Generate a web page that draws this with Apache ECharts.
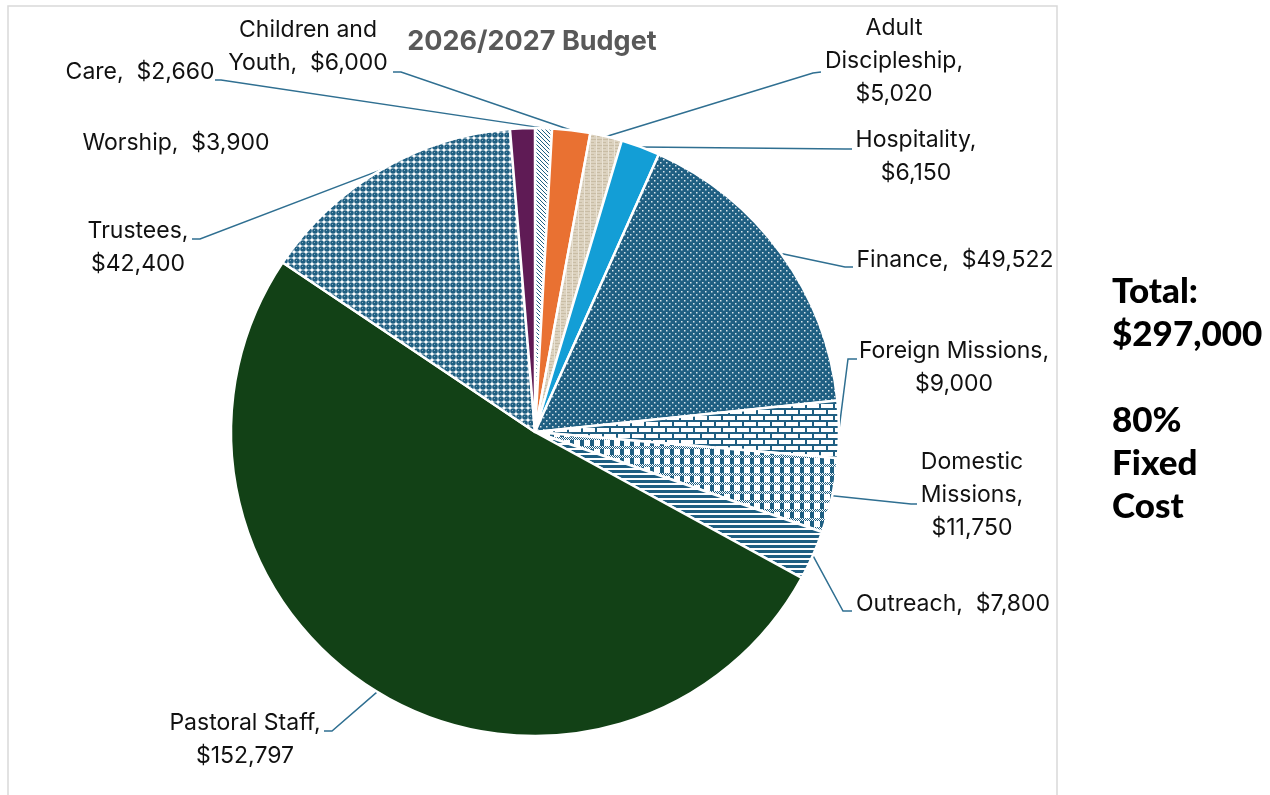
<!DOCTYPE html>
<html><head><meta charset="utf-8">
<script src="https://cdn.jsdelivr.net/npm/echarts@6/dist/echarts.min.js"></script>
<style>html,body{margin:0;padding:0;background:#fff}#c{width:1270px;height:795px}</style>
</head><body><div id="c"></div>
<script>
// ---- data ----
const categories = ['Care','Children and Youth','Adult Discipleship','Hospitality','Finance','Foreign Missions','Domestic Missions','Outreach','Pastoral Staff','Trustees','Worship'];
const values = [2660,6000,5020,6150,49522,9000,11750,7800,152797,42400,3900];
const labelTemplates = ['Care,  {v}','Children and\nYouth,  {v}','Adult\nDiscipleship,\n{v}','Hospitality,\n{v}','Finance,  {v}','Foreign Missions,\n{v}','Domestic\nMissions,\n{v}','Outreach,  {v}','Pastoral Staff,\n{v}','Trustees,\n{v}','Worship,  {v}'];
const titleText = '2026/2027 Budget';
const sideText = ['Total:','$297,000','','80%','Fixed','Cost'];

// ---- layout / style ----
const CX = 535, CY = 432, R = 304;
const labelBox = [[140,72],[308,47],[894,61],[916,157],[955,260],[954,368],[972,495],[953,604],[245,740],[138,248],[176,143]];
const labelLinks = [[[221,80],[215,80]],[[401,72],[393,72]],[[813,73],[821,72]],[[845,149],[852,149]],[[845,267],[853,267]],[[848,359],[857,359]],[[911,504],[917,504]],[[843,611],[852,611]],[[332,731],[324,731]],[[200,239],[192,239]],null];

const B = '#1f5f82';
function mk(w,h,draw){const c=document.createElement('canvas');c.width=w;c.height=h;const g=c.getContext('2d');draw(g,w,h);return {image:c,repeat:'repeat'};}
const pCare = mk(4,4,g=>{g.fillStyle='#fff';g.fillRect(0,0,4,4);g.fillStyle=B;for(let i=0;i<4;i++)g.fillRect(i,i,1,1);});
const pAdult = mk(6,6,g=>{g.fillStyle='#dcd2bf';g.fillRect(0,0,6,6);g.fillStyle='#c9bda5';g.fillRect(0,1,6,1);g.fillRect(3,4,3,1);g.fillStyle='#e9e2d4';g.fillRect(2,0,1,6);});
const pFinance = mk(6,6,g=>{g.fillStyle=B;g.fillRect(0,0,6,6);g.fillStyle='#d8e4ea';g.fillRect(0,0,1.5,1.5);g.fillRect(3,3,1.5,1.5);});
const pForeign = mk(14,12,g=>{g.fillStyle='#fff';g.fillRect(0,0,14,12);g.fillStyle=B;g.fillRect(0,0,14,2);g.fillRect(0,6,14,2);g.fillRect(0,0,2,6);g.fillRect(7,6,2,6);});
const pDomestic = mk(10,9,g=>{g.fillStyle='#fff';g.fillRect(0,0,10,9);g.fillStyle=B;g.fillRect(0,0,4,5);g.fillRect(0,8,4,1);for(let x=0;x<10;x++)for(let y=5;y<8;y++)if((x+y)%2===0)g.fillRect(x,y,1,1);});
const pOutreach = mk(4,5,g=>{g.fillStyle='#fff';g.fillRect(0,0,4,5);g.fillStyle=B;g.fillRect(0,0,4,3);});
const pTrustees = mk(6,6,g=>{g.fillStyle='#fff';g.fillRect(0,0,6,6);g.fillStyle=B;g.beginPath();g.arc(3,3,2.8,0,Math.PI*2);g.fill();g.fillStyle='rgba(255,255,255,0.45)';g.fillRect(2,2,1,1);});
const sliceColors = [pCare,'#e97132',pAdult,'#139ed6',pFinance,pForeign,pDomestic,pOutreach,'#124116',pTrustees,'#5f1b55'];

const total = values.reduce((a,b)=>a+b,0);
const anchors = [];
{let cum=0; values.forEach(v=>{const a=(cum+v/2)/total*2*Math.PI; anchors.push([CX+R*Math.sin(a), CY-R*Math.cos(a)]); cum+=v;});}

const chart = echarts.init(document.getElementById('c'));
chart.setOption({
  animation:false,
  graphic:[
    {type:'rect', silent:true, z:-10, shape:{x:8,y:6,width:1049,height:830}, style:{fill:'none',stroke:'#d9d9d9',lineWidth:1.5}},
    {type:'text', x:532, y:42, style:{text:titleText, fontFamily:'Inter', fontWeight:'bold', fontSize:27, fill:'#595959', align:'center', verticalAlign:'middle'}},
    {type:'text', x:1112, y:270, style:{text:sideText.join('\n'), fontFamily:'Lato', fontWeight:900, fontSize:35, lineHeight:43, fill:'#000', align:'left', verticalAlign:'top'}}
  ],
  series:[{
    type:'pie',
    center:[CX,CY], radius:R,
    startAngle:90, clockwise:true,
    avoidLabelOverlap:false,
    itemStyle:{borderColor:'#fff', borderWidth:2.5},
    label:{show:true, position:'outside', color:'#111', fontFamily:'Inter', fontSize:23, lineHeight:33, align:'center',
      formatter:p=>labelTemplates[p.dataIndex].replace('{v}','$'+p.value.toLocaleString('en-US'))},
    labelLine:{show:true, smooth:false, lineStyle:{color:'#2f6f91', width:1.5}},
    labelLayout:function(p){
      const i=p.dataIndex, L=labelBox[i], k=labelLinks[i];
      const o={x:L[0], y:L[1], align:'center', verticalAlign:'middle'};
      if(k) o.labelLinePoints=[anchors[i].slice(), k[0], k[1]];
      return o;
    },
    emphasis:{disabled:true},
    data:categories.map((n,i)=>({name:n, value:values[i], itemStyle:{color:sliceColors[i]}, labelLine: labelLinks[i]?{show:true}:{show:false}}))
  }]
});
</script></body></html>
